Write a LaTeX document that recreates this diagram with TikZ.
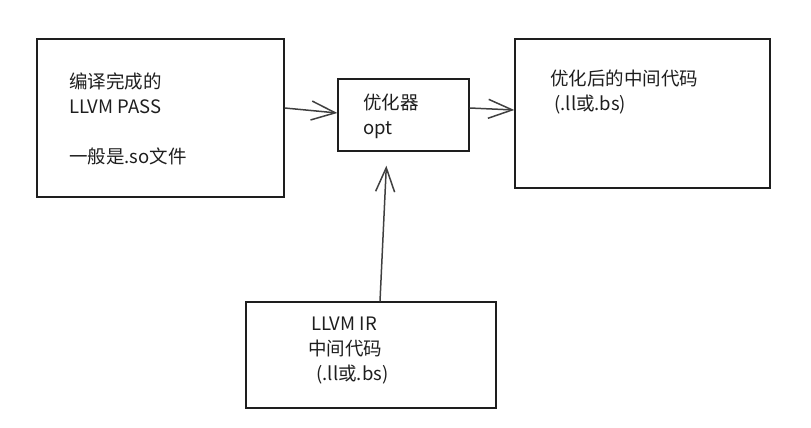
\documentclass[tikz,border=0pt]{standalone}
\usepackage{fontspec}
\setmainfont{Noto Sans CJK SC}
\usetikzlibrary{arrows.meta}
\definecolor{inkgray}{HTML}{1E1E1E}
\tikzset{
  sketchbox/.style={draw=inkgray, line width=1.4pt, inner sep=0pt},
  sketchtext/.style={inner sep=0pt, align=left, anchor=north west, text=inkgray,
    font=\fontsize{18.5}{25}\selectfont},
  sketcharrow/.style={line width=1.5pt, draw=inkgray!85},
}
\begin{document}
\begin{tikzpicture}[x=1pt,y=-1pt,>={Straight Barb[length=24pt,width=19pt,line width=1.5pt]}]
\useasboundingbox (0,0) rectangle (811,428);
% boxes
\node[sketchbox, minimum width=247pt, minimum height=158pt] (pass) at (160.5,118) {};
\node[sketchbox, minimum width=131pt, minimum height=72pt] (opt) at (403.5,115) {};
\node[sketchbox, minimum width=255pt, minimum height=149pt] (result) at (642.5,113.5) {};
\node[sketchbox, minimum width=250pt, minimum height=106pt] (ir) at (371,355) {};
% texts
\node[sketchtext] (passtext) at (69,73) {编译完成的\\LLVM PASS\\[25pt]一般是.so文件};
\node[sketchtext] (opttext) at (363,94) {优化器\\opt};
\node[sketchtext] (resulttext) at (550,70) {优化后的中间代码\\ \ (.ll或.bs)};
\node[sketchtext] (irtext) at (308,317) {\,LLVM IR\\中间代码\\ \ \ (.ll或.bs)};
% arrows
\draw[sketcharrow,->] ([yshift=10pt]pass.east) -- ([yshift=2pt]opt.west);
\draw[sketcharrow,->] ([yshift=7pt]opt.east) -- ([yshift=3.5pt]result.west);
\draw[sketcharrow,->,shorten >=14pt] ([xshift=9pt]ir.north) -- ([xshift=-16.5pt]opt.south);
\end{tikzpicture}
\end{document}
